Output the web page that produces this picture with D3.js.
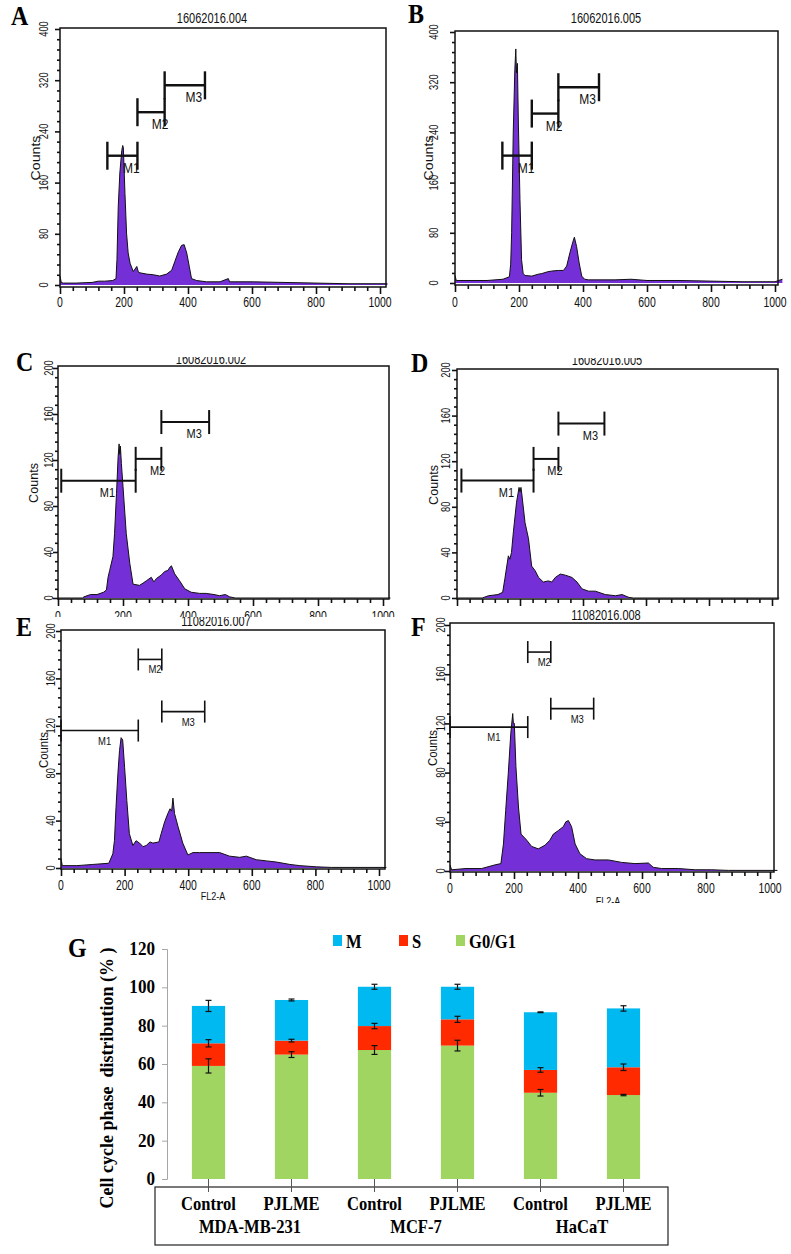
<!DOCTYPE html>
<html><head><meta charset="utf-8">
<script src="https://cdn.jsdelivr.net/npm/d3@7"></script>
<style>body{margin:0;background:#fff}svg{display:block}text{white-space:pre}</style>
</head><body><svg id="c" width="791" height="1254"></svg>
<script>
// ---------- DATA: flow cytometry histograms ([FL2-A channel, counts]) ----------
const histA = [[0,14],[4,4],[10,3],[50,3],[100,4],[120,6],[140,6],[165,7],[175,10],[178,40],[182,122],[187,175],[193,210],[196,218],[198,214],[203,143],[208,81],[213,50],[219,34],[229,21],[240,29],[245,20],[250,19],[271,17],[292,16],[312,14],[333,17],[349,23],[359,37],[370,52],[380,62],[388,63],[396,50],[404,29],[411,10],[427,7],[458,5],[500,5],[526,10],[530,5],[600,5],[700,4],[800,3],[900,2],[1000,2],[1023,2]];
const histB = [[0,12],[4,4],[50,4],[100,4],[150,6],[160,8],[170,10],[174,30],[177,80],[182,239],[187,340],[190,373],[192,335],[195,350],[198,255],[203,133],[208,37],[213,15],[219,12],[240,11],[260,14],[271,15],[290,18],[302,19],[323,20],[339,20],[349,27],[359,48],[368,65],[373,73],[380,58],[388,32],[396,11],[405,6],[417,5],[500,5],[550,6],[600,4],[700,4],[800,3],[900,2],[1000,2],[1023,6]];
const histC = [[0,0],[75,0],[80,1],[100,3],[120,3],[140,5],[149,7],[154,18],[159,24],[169,36],[174,56],[180,91],[185,123],[188,134],[190,125],[192,132],[195,117],[200,97],[210,56],[221,30],[231,12],[251,11],[262,13],[272,15],[287,18],[295,14],[303,17],[318,20],[328,23],[338,24],[345,27],[349,28],[359,21],[374,15],[390,8],[410,5],[436,4],[456,4],[480,3],[497,2],[515,3],[528,1],[545,0],[1023,0]];
const histD = [[0,0],[80,0],[100,2],[130,3],[145,5],[152,17],[163,37],[168,34],[173,40],[179,58],[189,84],[197,97],[200,93],[203,97],[205,93],[216,66],[227,52],[237,28],[248,24],[259,18],[274,14],[290,15],[301,14],[312,18],[328,21],[344,20],[355,19],[365,18],[381,14],[397,8],[418,6],[439,6],[471,3],[503,2],[524,3],[546,0.5],[560,0],[1023,0]];
const histE = [[0,8],[4,2],[50,2],[100,3],[150,4],[152,5],[163,12],[168,23],[173,51],[179,80],[184,99],[189,110],[194,108],[200,85],[207,57],[215,29],[226,19],[236,23],[247,21],[258,18],[268,19],[280,22],[289,21],[308,22],[315,29],[326,39],[336,46],[343,50],[348,48],[352,59],[357,46],[368,35],[383,21],[399,11],[415,13],[436,13],[478,13],[499,13],[530,10],[562,9],[583,10],[614,7],[646,6],[678,5],[720,3],[751,2],[803,1],[850,0.5],[1000,0.5],[1023,0.5]];
const histF = [[0,5],[5,1],[50,2],[99,2],[141,5],[159,6],[167,22],[174,49],[182,79],[190,112],[196,128],[198,120],[201,120],[206,85],[214,52],[222,30],[240,25],[255,20],[276,18],[297,21],[312,25],[323,30],[339,33],[354,36],[362,40],[370,41],[380,36],[391,22],[406,14],[427,10],[453,9],[495,9],[536,7],[578,6],[620,6.5],[635,3],[661,2],[714,2],[766,1],[818,1],[870,0.5],[1023,0.5]];
// gates: [name, from channel, to channel, counts level]
const markersA = [["M1",148,242,202],["M2",242,327,270],["M3",327,453,312]];
const markersB = [["M1",148,240,203],["M2",240,323,270],["M3",323,450,312]];
const markersC = [["M1",10,239,102],["M2",239,318,121],["M3",318,465,153]];
const markersD = [["M1",14,243,103],["M2",243,322,122],["M3",322,468,153]];
const markersE = [["M1",0,243,116],["M2",243,317,176],["M3",317,452,132]];
const markersF = [["M1",0,243,117],["M2",243,315,178],["M3",315,449,132]];
const histTitles = ["16062016.004","16062016.005","16082016.002","16082016.005","11082016.007","11082016.008"];
const panelLetters = ["A","B","C","D","E","F"];
const xTickLabels = [0,200,400,600,800,1000];

// ---------- DATA: cell cycle distribution (panel G) ----------
const gCategories = ["Control","PJLME","Control","PJLME","Control","PJLME"];
const gGroups = ["MDA-MB-231","MCF-7","HaCaT"];
const phaseKeys = ["G0/G1","S","M"];
const g0g1 = [59,64.9,67.3,69.6,45,43.8];
const sPhase = [11.8,7.3,12.5,13.7,11.9,14.5];
const mPhase = [19.5,21.2,20.5,17.0,30.1,30.7];
const g0g1Err = [3.7,1.5,2.3,2.8,1.7,0.35];
const sErr = [1.9,0.7,1.4,1.6,1.2,1.7];
const mErr = [2.9,0.5,1.3,1.3,0.2,1.4];
const gTicks = [0,20,40,60,80,100,120];
const legendOrder = ["M","S","G0/G1"];

// ---------- LAYOUT ----------
const svg = d3.select("#c");
const defs = svg.append("defs");
const SANS = "'Liberation Sans', Arial, sans-serif";
const SERIF = "'Liberation Serif', 'Times New Roman', serif";
const PURPLE = "#7430D6";

const panels = [
 {data:histA, mk:markersA, ymax:400, yMaj:80, yMin:16, x0:60, x1000:380, xR:386, yZ:285, yT:29, bT:28, bB:287, clip:[0,0,395,315], let:[11,25], tt:[212,23], xl:307, yo:12, co:20, cy:158, cs:1.18, mf:12, mw:2.4, mt:14, mdx:9, mdy:17},
 {data:histB, mk:markersB, ymax:400, yMaj:80, yMin:16, x0:455, x1000:775, xR:778, yZ:283, yT:32, bT:31, bB:285, clip:[395,0,396,315], let:[408,23], tt:[606,23], xl:307, yo:17, co:22, cy:158, cs:1.18, mf:12, mw:2.4, mt:14, mdx:9, mdy:17},
 {data:histC, mk:markersC, ymax:200, yMaj:40, yMin:8, x0:58, x1000:383, xR:389, yZ:598, yT:368, bT:366, bB:599, clip:[0,357,395,261], let:[16,371], tt:[211,364], xl:621, yo:5, co:20, cy:483, cs:1.05, mf:11, mw:2, mt:12, mdx:9, mdy:16},
 {data:histD, mk:markersD, ymax:200, yMaj:40, yMin:8, x0:457, x1000:772, xR:778, yZ:598, yT:370, bT:369, bB:599, clip:[395,358,396,252], let:[411,372], tt:[607,365], xl:621, yo:7, co:19, cy:485, cs:1.05, mf:11, mw:2, mt:12, mdx:9, mdy:16},
 {data:histE, mk:markersE, ymax:200, yMaj:40, yMin:8, x0:61, x1000:379, xR:385, yZ:868, yT:631, bT:630, bB:869, clip:[0,617,395,290], let:[16,636], tt:[216,626], xl:890, yo:6, co:13, cy:750, cs:0.95, mf:9.5, mw:1.6, mt:11, mdx:5, mdy:14, fl:[213,900]},
 {data:histF, mk:markersF, ymax:200, yMaj:40, yMin:8, x0:450, x1000:770, xR:774, yZ:871, yT:625, bT:623, bB:872, clip:[395,610,396,293], let:[411,636], tt:[606,620], xl:893, yo:5, co:13, cy:748, cs:0.95, mf:9.5, mw:1.6, mt:11, mdx:5, mdy:14, fl:[608,905]}
];

function stxt(g, x, y, s, o) {
  o = o || {};
  return g.append("text")
    .attr("transform", `translate(${x},${y}) rotate(${o.rot||0}) scale(${o.sx||1},${o.sy||1})`)
    .attr("text-anchor", o.anchor || "middle")
    .attr("font-family", o.family || SANS)
    .attr("font-size", o.size || 11)
    .attr("font-weight", o.weight || "normal")
    .attr("fill", o.fill || "#111")
    .text(s);
}

panels.forEach((p, i) => {
  const cid = "clip" + i;
  defs.append("clipPath").attr("id", cid).append("rect")
    .attr("x", p.clip[0]).attr("y", p.clip[1]).attr("width", p.clip[2]).attr("height", p.clip[3]);
  const g = svg.append("g").attr("clip-path", `url(#${cid})`);
  g.append("rect").attr("x", p.clip[0]).attr("y", p.clip[1]).attr("width", p.clip[2]).attr("height", p.clip[3]).attr("fill", "#fff");

  const x = d3.scaleLinear().domain([0, 1000]).range([p.x0, p.x1000]);
  const y = d3.scaleLinear().domain([0, p.ymax]).range([p.yZ, p.yT]);

  // histogram
  const area = d3.area().x(d => x(d[0])).y0(y(0)).y1(d => y(d[1]));
  const line = d3.line().x(d => x(d[0])).y(d => y(d[1]));
  g.append("path").datum(p.data).attr("d", area).attr("fill", PURPLE);
  g.append("path").datum(p.data).attr("d", line).attr("fill", "none").attr("stroke", "#111").attr("stroke-width", 1);

  // frame
  g.append("rect").attr("x", p.x0).attr("y", p.bT).attr("width", p.xR - p.x0).attr("height", p.bB - p.bT)
    .attr("fill", "none").attr("stroke", "#111").attr("stroke-width", 1.5);

  // y axis ticks
  const yMajor = d3.range(0, p.ymax + 1, p.yMaj);
  const yMinor = d3.range(0, p.ymax + 1, p.yMin).filter(v => v % p.yMaj !== 0);
  const ya = g.append("g").attr("transform", `translate(${p.x0},0)`).call(d3.axisLeft(y).tickValues(yMajor).tickSize(5).tickFormat(""));
  const ya2 = g.append("g").attr("transform", `translate(${p.x0},0)`).call(d3.axisLeft(y).tickValues(yMinor).tickSize(3).tickFormat(""));
  [ya, ya2].forEach(a => { a.select(".domain").remove(); a.selectAll("line").attr("stroke", "#111").attr("stroke-width", 1.6); });
  yMajor.forEach(v => stxt(g, p.x0 - p.yo, y(v), String(v), {rot:-90, size:11, sx:0.85, sy:1.2}));
  stxt(g, p.x0 - p.co, p.cy, "Counts", {rot:-90, size:12, sx:p.cs, sy:1.05});

  // x axis ticks
  const xMajor = xTickLabels;
  const xMinor = d3.range(40, 1001, 40).filter(v => v % 200 !== 0);
  const xa = g.append("g").attr("transform", `translate(0,${p.bB})`).call(d3.axisBottom(x).tickValues(xMajor).tickSize(7).tickFormat(""));
  const xa2 = g.append("g").attr("transform", `translate(0,${p.bB})`).call(d3.axisBottom(x).tickValues(xMinor).tickSize(4).tickFormat(""));
  [xa, xa2].forEach(a => { a.select(".domain").remove(); a.selectAll("line").attr("stroke", "#111").attr("stroke-width", 1.6); });
  xMajor.forEach(v => stxt(g, x(v), p.xl, String(v), {size:11, sx:0.95, sy:1.3}));
  if (p.fl) stxt(g, p.fl[0], p.fl[1], "FL2-A", {size:9.5, sx:0.95, sy:1.2});

  // title
  stxt(g, p.tt[0], p.tt[1], histTitles[i], {size:11, sx:1, sy:1.25});

  // gates
  p.mk.forEach(m => {
    const xa1 = x(m[1]), xb = x(m[2]), yy = y(m[3]);
    const mg = g.append("g").attr("stroke", "#111").attr("stroke-width", p.mw);
    mg.append("line").attr("x1", xa1).attr("x2", xb).attr("y1", yy).attr("y2", yy);
    mg.append("line").attr("x1", xa1).attr("x2", xa1).attr("y1", yy - p.mt).attr("y2", yy + p.mt);
    mg.append("line").attr("x1", xb).attr("x2", xb).attr("y1", yy - p.mt).attr("y2", yy + p.mt);
    stxt(g, (xa1 + xb) / 2 + p.mdx, yy + p.mdy, m[0], {size:p.mf, sx:1, sy:1.2});
  });
});

// panel letters
panels.forEach((p, i) => {
  stxt(svg, p.let[0], p.let[1], panelLetters[i], {anchor:"start", family:SERIF, weight:"bold", size:24, sy:1.1, fill:"#000"});
});

// ---------- PANEL G ----------
const G = svg.append("g");
const colors = {"M":"#00B9F1", "S":"#FF2A00", "G0/G1":"#A0D562"};
const rows = gCategories.map((c, i) => ({i, "G0/G1":g0g1[i], "S":sPhase[i], "M":mPhase[i]}));
const errs = {"G0/G1":g0g1Err, "S":sErr, "M":mErr};
const stack = d3.stack().keys(phaseKeys)(rows);

const xb = d3.scaleBand().domain(d3.range(gCategories.length)).range([167, 665]).paddingInner(0.6).paddingOuter(0.3);
const yb = d3.scaleLinear().domain([0, 120]).range([1179, 949]);

stack.forEach(s => {
  G.append("g").selectAll("rect").data(s).join("rect")
    .attr("x", d => xb(d.data.i)).attr("width", xb.bandwidth())
    .attr("y", d => yb(d[1])).attr("height", d => yb(d[0]) - yb(d[1]))
    .attr("fill", colors[s.key]);
});
// error bars
stack.forEach(s => {
  const e = errs[s.key];
  s.forEach(d => {
    const cx = xb(d.data.i) + xb.bandwidth() / 2;
    const v = d[1], er = e[d.data.i];
    const eg = G.append("g").attr("stroke", "#111").attr("stroke-width", 1.2);
    eg.append("line").attr("x1", cx).attr("x2", cx).attr("y1", yb(v - er)).attr("y2", yb(v + er));
    eg.append("line").attr("x1", cx - 3).attr("x2", cx + 3).attr("y1", yb(v - er)).attr("y2", yb(v - er));
    eg.append("line").attr("x1", cx - 3).attr("x2", cx + 3).attr("y1", yb(v + er)).attr("y2", yb(v + er));
  });
});

// y axis
const gy = G.append("g").attr("transform", "translate(167,0)").call(d3.axisLeft(yb).tickValues(gTicks).tickSize(5).tickFormat(""));
gy.select(".domain").attr("stroke", "#A6A6A6");
gy.selectAll("line").attr("stroke", "#A6A6A6");
gTicks.forEach(v => stxt(G, 155, yb(v) + 6, String(v), {anchor:"end", family:SERIF, weight:"bold", size:18, sx:0.95, sy:1.1, fill:"#000"}));
stxt(G, 113, 1078, "Cell cycle phase  distribution (% )", {rot:-90, family:SERIF, weight:"bold", size:18, fill:"#000"});

// category box
G.append("rect").attr("x", 155).attr("y", 1187).attr("width", 513).attr("height", 58)
  .attr("fill", "none").attr("stroke", "#222").attr("stroke-width", 1.2);
const gx = G.append("g").attr("transform", "translate(0,1179)").call(d3.axisBottom(xb).tickSize(13).tickFormat(""));
gx.select(".domain").remove();
gx.selectAll("line").attr("stroke", "#555");
gCategories.forEach((c, i) => stxt(G, xb(i) + xb.bandwidth() / 2, 1210, c, {family:SERIF, weight:"bold", size:18, sx:0.92, sy:1.1, fill:"#000"}));
gGroups.forEach((grp, k) => {
  const cx = (xb(2 * k) + xb(2 * k + 1) + xb.bandwidth()) / 2;
  stxt(G, cx, 1233, grp, {family:SERIF, weight:"bold", size:18, sx:0.92, sy:1.1, fill:"#000"});
});

// legend
const legX = [333, 399, 456];
legendOrder.forEach((k, i) => {
  G.append("rect").attr("x", legX[i]).attr("y", 935).attr("width", 9).attr("height", 11).attr("fill", colors[k]);
  stxt(G, legX[i] + 13, 948, k, {anchor:"start", family:SERIF, weight:"bold", size:18, sx:0.92, sy:1.1, fill:"#000"});
});
stxt(svg, 68, 957, "G", {anchor:"start", family:SERIF, weight:"bold", size:24, sy:1.1, fill:"#000"});
</script></body></html>
